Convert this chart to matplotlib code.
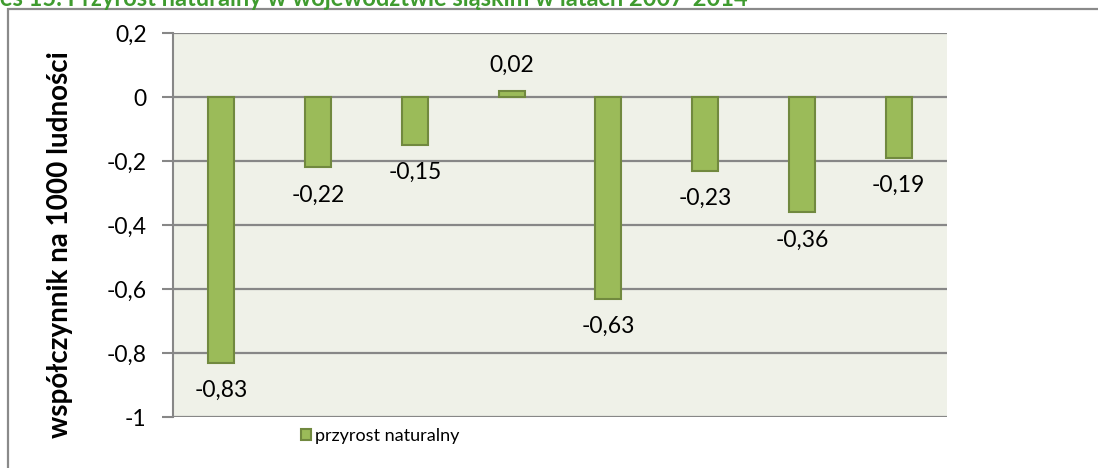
import matplotlib
matplotlib.use("Agg")
import matplotlib.pyplot as plt
from matplotlib.patches import Rectangle

years = ["2007", "2008", "2009", "2010", "2011", "2012", "2013", "2014"]
values = [-0.83, -0.22, -0.15, 0.02, -0.63, -0.23, -0.36, -0.19]
value_labels = ["-0,83", "-0,22", "-0,15", "0,02", "-0,63", "-0,23", "-0,36", "-0,19"]
yticks = [0.2, 0, -0.2, -0.4, -0.6, -0.8, -1]
ytick_labels = ["0,2", "0", "-0,2", "-0,4", "-0,6", "-0,8", "-1"]
series_name = "przyrost naturalny"
y_title = "współczynnik na 1000 ludności"
chart_title = "Wykres 15. Przyrost naturalny w województwie śląskim w latach 2007-2014"

plt.rcParams['font.family'] = ['Lato', 'DejaVu Sans']

W, H = 1098, 468
fig = plt.figure(figsize=(W / 100, H / 100), dpi=100)
fig.patch.set_facecolor("white")

# outer chart frame (right and bottom edges lie outside the picture)
fig.patches.append(Rectangle((8 / W, -0.5), 2.0, 1.5 - 9 / H,
                             transform=fig.transFigure, fill=False,
                             edgecolor="#8a8a8a", linewidth=1.6, zorder=0))

# title (cut at top, as in the source)
fig.text(748 / W, 1 + 1 / H, chart_title, ha="right", va="center",
         color="#3f9b2f", fontsize=17, fontweight="bold")

ax = fig.add_axes([173 / W, 1 - 417 / H, (947 - 173) / W, (417 - 33) / H])
ax.set_facecolor("#eff1e8")

x = list(range(len(years)))
bars = ax.bar(x, values, width=0.27, color="#9bbb59", edgecolor="#71893f",
              linewidth=1.5, zorder=3, label=series_name)

ax.set_xlim(-0.5, len(years) - 0.5)
ax.set_ylim(-1, 0.2)
ax.set_yticks(yticks)
ax.set_yticklabels(ytick_labels, fontsize=16.5)
ax.set_xticks([])
ax.yaxis.grid(True, color="#878787", linewidth=1.6, zorder=1)
ax.set_axisbelow(True)
ax.tick_params(axis="y", length=8, width=1.5, color="#878787", pad=11)

for s in ["top", "right", "bottom"]:
    ax.spines[s].set_visible(False)
ax.spines["left"].set_color("#878787")
ax.spines["left"].set_linewidth(1.5)

for xi, v, lab in zip(x, values, value_labels):
    off = -20 if v < 0 else 18
    ax.annotate(lab, (xi, v), xytext=(0, off), textcoords="offset points",
                ha="center", va="center", fontsize=16.5, color="black")

ax.set_ylabel(y_title, fontsize=20, fontweight="bold")
ax.yaxis.set_label_coords(-100 / (947 - 173), 0.45)

leg = fig.legend(handles=[bars], labels=[series_name], loc="center",
                 bbox_to_anchor=(380 / W, 1 - 436 / H), frameon=False,
                 fontsize=13, handlelength=0.55, handleheight=0.55,
                 handletextpad=0.25, borderpad=0.1)

fig.savefig("out.png", dpi=100)
